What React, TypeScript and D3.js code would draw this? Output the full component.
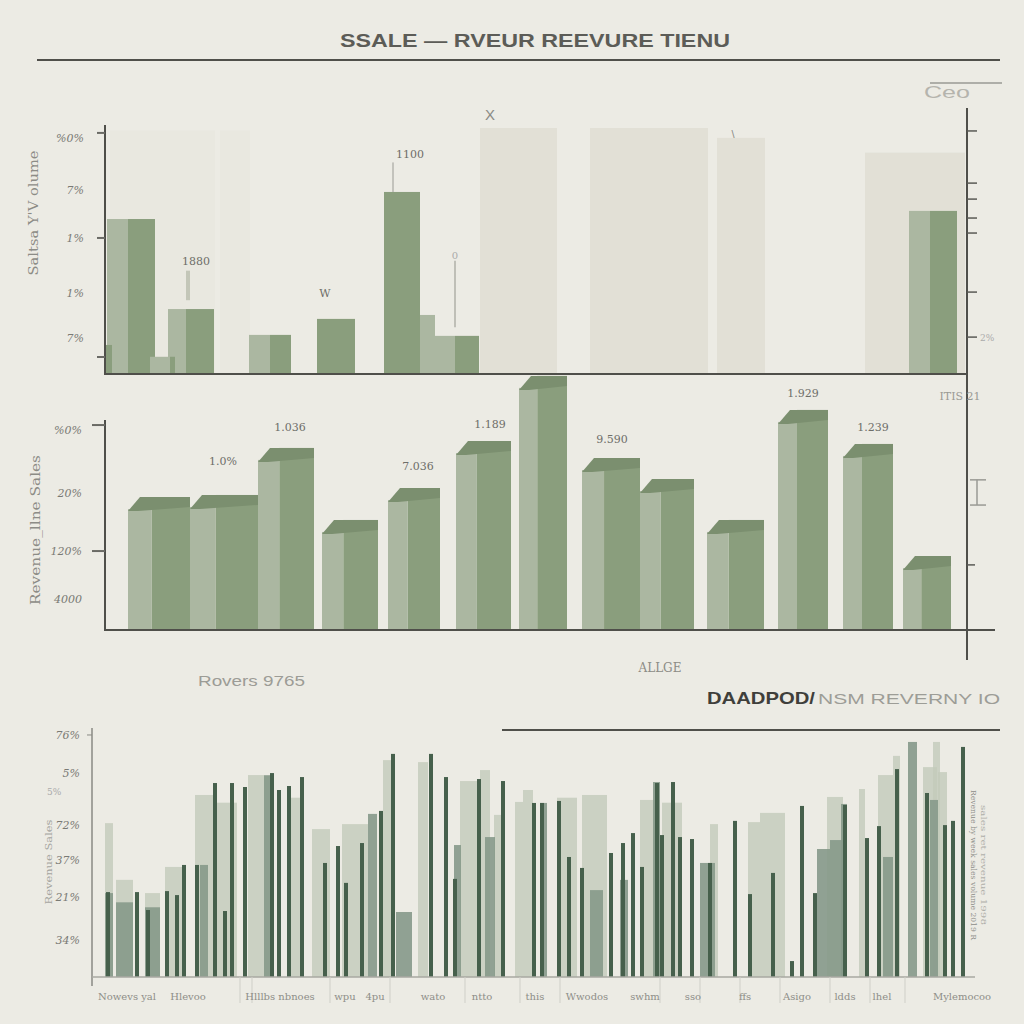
import React, { useEffect } from 'react';
import * as d3 from 'd3';

// ---------- DATA ----------
const TITLE = 'SSALE — RVEUR REEVURE TIENU';

// Panel 1 (units along the shared week axis; values in %)
const p1Ghosts = [
  { start: 0.5, end: 11, value: 99, tone: 0 },
  { start: 11.5, end: 14.5, value: 99, tone: 0 },
  { start: 37.5, end: 45.2, value: 100, tone: 1 },
  { start: 48.5, end: 60.3, value: 100, tone: 1 },
  { start: 61.2, end: 66, value: 96, tone: 1 },
  { start: 76, end: 86, value: 90, tone: 1 },
];
const p1Bars = [
  { start: 0.2, split: 2.3, end: 5.0, value: 63 },
  { start: 6.3, split: 8.1, end: 10.9, value: 26.4 },
  { start: 14.4, split: 16.5, end: 18.6, value: 15.9 },
  { start: 21.2, split: 21.2, end: 25.0, value: 22.4 },
  { start: 27.9, split: 27.9, end: 31.5, value: 74 },
  { start: 31.5, split: 33.0, end: 33.0, value: 24 },
  { start: 33.0, split: 35.0, end: 37.4, value: 15.5 },
  { start: 80.4, split: 82.5, end: 85.2, value: 66.3 },
  { start: 0.0, split: 0.0, end: 0.7, value: 11.8 },
  { start: 4.5, split: 6.5, end: 7.0, value: 7 },
];
const p1Notes = [
  { pos: 9.1, value: 44.3, text: '1880' },
  { pos: 22.0, value: 31.3, text: 'W' },
  { pos: 30.5, value: 88, text: '1100' },
];
const p1TickLabels = ['%0%', '7%', '1%', '1%', '7%'];
const p1TickValues = [95.9, 74.8, 55.3, 32.9, 14.6];
const p1TickMarks = [98, 55.3, 6.9];
const p1RightTicks = [98.8, 77.6, 71.1, 63.4, 57.3, 33.3, 15];

// Panel 2
const p2Bars = [
  { start: 2.3, end: 8.5, value: 63.3 },
  { start: 8.5, end: 15.3, value: 64.3 },
  { start: 15.3, end: 20.9, value: 86.7 },
  { start: 21.7, end: 27.3, value: 52.4 },
  { start: 28.3, end: 33.5, value: 67.6 },
  { start: 35.1, end: 40.6, value: 90 },
  { start: 41.4, end: 46.2, value: 121 },
  { start: 47.7, end: 53.5, value: 81.9 },
  { start: 53.5, end: 58.9, value: 71.9 },
  { start: 60.2, end: 65.9, value: 52.4 },
  { start: 67.3, end: 72.3, value: 104.8 },
  { start: 73.8, end: 78.8, value: 88.6 },
  { start: 79.8, end: 84.6, value: 35.2 },
];
const p2Notes = [
  { pos: 11.8, value: 78.6, text: '1.0%' },
  { pos: 18.5, value: 94.8, text: '1.036' },
  { pos: 31.3, value: 76.2, text: '7.036' },
  { pos: 38.5, value: 96.2, text: '1.189' },
  { pos: 50.7, value: 89, text: '9.590' },
  { pos: 69.8, value: 111, text: '1.929' },
  { pos: 76.8, value: 94.8, text: '1.239' },
];
const p2TickLabels = ['%0%', '20%', '120%', '4000'];
const p2TickValues = [95.2, 65.2, 37.6, 14.8];
const p2TickMarks = [97.6, 37.6];

// Panel 3
const p3Light = [
  [1.3, 2.1, 61.8], [10.3, 12.1, 73.1], [15.6, 18, 81.1], [7.3, 9, 44.2],
  [22, 23.8, 59.4], [25, 27.6, 61.4], [29.1, 30, 87.1], [32.6, 33.6, 86.3],
  [36.8, 38.5, 78.7], [38.8, 39.8, 83.1], [40.2, 41.3, 65.1], [42.3, 43.1, 70.3],
  [43.1, 44.1, 75.1], [49, 51.5, 73.1], [54.8, 56.8, 71.1], [61.8, 62.6, 61.4],
  [65.6, 66.8, 62.2], [66.8, 69.3, 65.9], [73.5, 75.1, 72.3], [76.7, 77.3, 75.5],
  [78.6, 80.1, 81.1], [80.1, 80.8, 88.8], [83.1, 84.5, 84.3], [84.1, 84.8, 94.4],
  [84.6, 85.5, 82.3], [2.4, 4.1, 39], [5.3, 6.8, 33.7], [12.5, 14.5, 70],
  [19.5, 21, 72], [46.5, 48.5, 72], [57, 59, 70],
];
const p3Mid = [
  [1.3, 2.1, 33.7], [2.4, 4.1, 30], [5.3, 6.8, 28], [27.6, 28.5, 65.5],
  [30.4, 32, 26.1], [39.3, 40.3, 56.2], [44.8, 45.5, 69.9], [49.8, 51.1, 34.9],
  [56.1, 56.8, 78.3], [60.8, 62.3, 45.8], [72.5, 73.8, 51.4], [73.8, 75.1, 55],
  [74.9, 75.5, 69.5], [79.1, 80.1, 48.2], [81.6, 82.5, 94.4], [83.8, 84.6, 71.1],
  [10.8, 11.6, 45], [17.2, 18.2, 81], [36.2, 36.9, 53], [52.8, 53.6, 39],
];
const p3Dark = [
  [1.6, 34.1], [4.5, 34.1], [5.6, 26.9], [7.5, 34.5], [8.5, 32.9], [9.2, 45],
  [10.5, 45], [12.3, 77.9], [13.3, 26.5], [14, 77.9], [15.3, 76.3], [18, 81.9],
  [18.7, 75.1], [19.7, 76.7], [21, 80.3], [23.3, 45.8], [24.6, 52.6], [25.4, 37.8],
  [27, 53.8], [28.9, 66.7], [30.1, 89.6], [33.9, 89.6], [35.4, 80.3], [36.3, 39.4],
  [38.7, 79.5], [41.1, 78.7], [44.2, 69.9], [45, 69.9], [46.7, 70.7], [47.7, 48.2],
  [49, 43.8], [51.9, 49.8], [53.1, 53.8], [54.1, 57.8], [55, 44.2], [56.5, 77.9],
  [57, 57], [58.1, 78.3], [58.8, 56.2], [60, 55.4], [61.8, 45.8], [64.3, 62.7],
  [65.8, 33.3], [68.1, 41.8], [70, 6.4], [71, 68.7], [72.3, 33.7], [75.3, 69.1],
  [77.5, 55.8], [78.7, 60.6], [80.5, 83.5], [83.5, 73.9], [85.3, 61], [86.1, 62.7],
  [87.1, 92.4],
];
const p3TickLabels = ['76%', '5%', '72%', '37%', '21%', '34%'];
const p3TickValues = [97.2, 81.9, 61, 47, 32.1, 14.9];
const p3XLabels = ['Nowevs yal', 'Hlevoo', 'Hlllbs nbnoes', 'wpu', '4pu', 'wato', 'ntto', 'this',
  'Wwodos', 'swhm', 'sso', 'ffs', 'Asigo', 'ldds', 'lhel', 'Mylemocoo'];
const p3XLabelPos = [3.5, 9.6, 18.8, 25.3, 28.3, 34.1, 39, 44.3, 49.5, 55.3, 60.1, 65.3, 70.5, 75.3, 79, 87];
const p3XTicks = [14.8, 16, 23.8, 29.8, 37.3, 42.8, 46.8, 56.8, 60.8, 64.8, 68.8, 73.8, 77.8, 81.3];

// ---------- STYLE ----------
const BG = '#ecebe4';
const AXIS = '#4f4f4a';
const G_DARK = '#8a9e7d';
const G_LIGHT = '#abb7a1';
const G_TOP = '#7b8f6f';
const GHOST = ['#e9e8e0', '#e2e0d6'];
const P3_DARK = '#46604c';
const P3_MID = '#86998a';
const P3_LIGHT = '#c3cbba';
const SERIF = 'DejaVu Serif, serif';
const SANS = 'Liberation Sans, Arial, sans-serif';

export default function App() {
  useEffect(() => {
    document.body.style.margin = '0';
    document.body.style.background = BG;
  }, []);

  const x = d3.scaleLinear().domain([0, 86.2]).range([105, 967]);
  const y1 = d3.scaleLinear().domain([0, 100]).range([374, 128]);
  const y2 = d3.scaleLinear().domain([0, 100]).range([630, 420]);
  const x3 = d3.scaleLinear().domain([0, 88]).range([92, 972]);
  const y3 = d3.scaleLinear().domain([0, 100]).range([977, 728]);

  return (
    <svg width={1024} height={1024} style={{ position: 'fixed', left: 0, top: 0, display: 'block' }}>
      <rect x={0} y={0} width={1024} height={1024} fill={BG} />

      {/* Title */}
      <text x={340} y={47} fontFamily={SANS} fontWeight="bold" fontSize={19} fill="#5c5c57"
        textLength={390} lengthAdjust="spacingAndGlyphs">{TITLE}</text>
      <line x1={37} x2={1000} y1={60} y2={60} stroke={AXIS} strokeWidth={2} />
      <text x={924} y={98} fontFamily={SANS} fontSize={17} fill="#b5b4ad" textLength={46} lengthAdjust="spacingAndGlyphs">Ceo</text>
      <line x1={930} x2={1002} y1={83} y2={83} stroke="#9a9a94" strokeWidth={1.5} />

      {/* ---------- Panel 1 ---------- */}
      {p1Ghosts.map((d, i) => (
        <rect key={'g' + i} x={x(d.start)} width={x(d.end) - x(d.start)} y={y1(d.value)}
          height={y1(0) - y1(d.value)} fill={GHOST[d.tone]} />
      ))}
      {p1Bars.map((d, i) => (
        <g key={'b1' + i}>
          {d.split > d.start && (
            <rect x={x(d.start)} width={x(d.split) - x(d.start)} y={y1(d.value)}
              height={y1(0) - y1(d.value)} fill={G_LIGHT} />
          )}
          {d.end > d.split && (
            <rect x={x(d.split)} width={x(d.end) - x(d.split)} y={y1(d.value)}
              height={y1(0) - y1(d.value)} fill={G_DARK} />
          )}
        </g>
      ))}
      <line x1={x(8.3)} x2={x(8.3)} y1={y1(42)} y2={y1(30)} stroke="#c3c6b8" strokeWidth={4} />
      <line x1={x(28.8)} x2={x(28.8)} y1={y1(86)} y2={y1(74)} stroke="#9a9a94" strokeWidth={1} />
      <line x1={x(35)} x2={x(35)} y1={y1(46)} y2={y1(19)} stroke="#b0b0a8" strokeWidth={1.5} />
      <text x={x(35)} y={y1(46) - 2} fontFamily={SERIF} fontSize={10} fill="#aaa" textAnchor="middle">0</text>
      {p1Notes.map((d, i) => (
        <text key={'n1' + i} x={x(d.pos)} y={y1(d.value)} fontFamily={SERIF} fontSize={11}
          fill="#6e6e69" textAnchor="middle">{d.text}</text>
      ))}
      <text x={490} y={120} fontFamily={SANS} fontSize={15} fill="#8a8a84" textAnchor="middle">X</text>
      <text x={733} y={138} fontFamily={SANS} fontSize={11} fill="#8a8a84" textAnchor="middle">\</text>

      <line x1={105} x2={105} y1={125} y2={375} stroke={AXIS} strokeWidth={2} />
      <line x1={104} x2={968} y1={374} y2={374} stroke={AXIS} strokeWidth={2} />
      {p1TickMarks.map((v, i) => (
        <line key={'tm1' + i} x1={97} x2={105} y1={y1(v)} y2={y1(v)} stroke="#6a6a65" strokeWidth={2} />
      ))}
      {p1TickLabels.map((t, i) => (
        <text key={'tl1' + i} x={84} y={y1(p1TickValues[i]) + 4} fontFamily={SERIF} fontSize={11}
          fill="#7a7a74" textAnchor="end" fontStyle="italic">{t}</text>
      ))}
      <text transform="translate(38,213) rotate(-90)" fontFamily={SERIF} fontSize={12} fill="#8c8c86"
        textAnchor="middle" textLength={125} lengthAdjust="spacingAndGlyphs">Saltsa Y'V olume</text>

      {/* right axis */}
      <line x1={967} x2={967} y1={108} y2={660} stroke={AXIS} strokeWidth={2} />
      {p1RightTicks.map((v, i) => (
        <line key={'rt' + i} x1={967} x2={977} y1={y1(v)} y2={y1(v)} stroke="#5a5a55" strokeWidth={1.5} />
      ))}
      <text x={980} y={y1(15) + 4} fontFamily={SERIF} fontSize={9} fill="#aaa">2%</text>

      {/* ---------- Panel 2 ---------- */}
      {p2Bars.map((d, i) => {
        const x0 = x(d.start);
        const xe = x(d.end);
        const top = y2(d.value);
        const w = xe - x0;
        const sp = x0 + w * 0.38;
        const pts = [[x0, top + 14], [x0 + 12, top], [xe, top], [xe, top + 10], [x0 + 10, top + 14]];
        return (
          <g key={'b2' + i}>
            <rect x={sp} width={xe - sp} y={top} height={y2(0) - top} fill={G_DARK} />
            <rect x={x0} width={sp - x0} y={top + 12} height={y2(0) - top - 12} fill={G_LIGHT} />
            <polygon points={pts.map(p => p.join(',')).join(' ')} fill={G_TOP} />
          </g>
        );
      })}
      {p2Notes.map((d, i) => (
        <text key={'n2' + i} x={x(d.pos)} y={y2(d.value)} fontFamily={SERIF} fontSize={11}
          fill="#6e6e69" textAnchor="middle">{d.text}</text>
      ))}
      <line x1={105} x2={105} y1={420} y2={631} stroke={AXIS} strokeWidth={2} />
      <line x1={104} x2={995} y1={630} y2={630} stroke={AXIS} strokeWidth={2} />
      {p2TickMarks.map((v, i) => (
        <line key={'tm2' + i} x1={92} x2={105} y1={y2(v)} y2={y2(v)} stroke="#6a6a65" strokeWidth={2} />
      ))}
      {p2TickLabels.map((t, i) => (
        <text key={'tl2' + i} x={82} y={y2(p2TickValues[i]) + 4} fontFamily={SERIF} fontSize={11}
          fill="#7a7a74" textAnchor="end" fontStyle="italic">{t}</text>
      ))}
      <text transform="translate(40,530) rotate(-90)" fontFamily={SERIF} fontSize={12} fill="#8c8c86"
        textAnchor="middle" textLength={150} lengthAdjust="spacingAndGlyphs">Revenue_llne Sales</text>
      <text x={960} y={400} fontFamily={SERIF} fontSize={11} fill="#9a9a94" textAnchor="middle">ITIS 21</text>
      <line x1={970} x2={986} y1={y2(71.5)} y2={y2(71.5)} stroke="#9a9a94" strokeWidth={1.5} />
      <line x1={977} x2={977} y1={y2(71.5)} y2={y2(59.5)} stroke="#9a9a94" strokeWidth={1.5} />
      <line x1={970} x2={986} y1={y2(59.5)} y2={y2(59.5)} stroke="#9a9a94" strokeWidth={1.5} />
      <line x1={967} x2={975} y1={y2(31)} y2={y2(31)} stroke="#5a5a55" strokeWidth={1.5} />
      <text x={660} y={672} fontFamily={SERIF} fontSize={12} fill="#8c8c86" textAnchor="middle">ALLGE</text>

      <text x={198} y={686} fontFamily={SANS} fontSize={15} fill="#9c9c96"
        textLength={107} lengthAdjust="spacingAndGlyphs">Rovers 9765</text>
      <text x={707} y={704} fontFamily={SANS} fontWeight="bold" fontSize={17} fill="#3f3f3b"
        textLength={108} lengthAdjust="spacingAndGlyphs">DAADPOD/</text>
      <text x={818} y={704} fontFamily={SANS} fontSize={15} fill="#9d9d97"
        textLength={182} lengthAdjust="spacingAndGlyphs">NSM  REVERNY IO</text>
      <line x1={502} x2={1000} y1={730} y2={730} stroke={AXIS} strokeWidth={2} />

      {/* ---------- Panel 3 ---------- */}
      {p3Light.map((d, i) => (
        <rect key={'l3' + i} x={x3(d[0])} width={x3(d[1]) - x3(d[0])} y={y3(d[2])}
          height={y3(0) - y3(d[2])} fill={P3_LIGHT} opacity={0.8} />
      ))}
      {p3Mid.map((d, i) => (
        <rect key={'m3' + i} x={x3(d[0])} width={x3(d[1]) - x3(d[0])} y={y3(d[2])}
          height={y3(0) - y3(d[2])} fill={P3_MID} opacity={0.9} />
      ))}
      {p3Dark.map((d, i) => (
        <rect key={'d3' + i} x={x3(d[0]) - 2} width={4} y={y3(d[1])}
          height={y3(0) - y3(d[1])} fill={P3_DARK} />
      ))}
      <line x1={92} x2={92} y1={728} y2={986} stroke="#8a8a84" strokeWidth={1.5} />
      <line x1={92} x2={975} y1={977} y2={977} stroke="#a8a8a2" strokeWidth={1.5} />
      <line x1={87} x2={92} y1={y3(97.2)} y2={y3(97.2)} stroke="#8a8a84" strokeWidth={1} />
      {p3TickLabels.map((t, i) => (
        <text key={'tl3' + i} x={80} y={y3(p3TickValues[i]) + 4} fontFamily={SERIF} fontSize={11}
          fill="#7a7a74" textAnchor="end" fontStyle="italic">{t}</text>
      ))}
      <text x={47} y={795} fontFamily={SERIF} fontSize={9} fill="#aaa">5%</text>
      <text transform="translate(52,862) rotate(-90)" fontFamily={SERIF} fontSize={10} fill="#a5a5a0"
        textAnchor="middle" textLength={85} lengthAdjust="spacingAndGlyphs">Revenue Sales</text>
      <text transform="translate(971,865) rotate(90)" fontFamily={SERIF} fontSize={8} fill="#8d8d88"
        textAnchor="middle" textLength={150} lengthAdjust="spacingAndGlyphs">Revenue by week sales volume 2019 R</text>
      <text transform="translate(981,865) rotate(90)" fontFamily={SERIF} fontSize={8} fill="#b0b0aa"
        textAnchor="middle" textLength={120} lengthAdjust="spacingAndGlyphs">sales ret revenue 1998</text>
      {p3XTicks.map((v, i) => (
        <line key={'xt3' + i} x1={x3(v)} x2={x3(v)} y1={977} y2={1003} stroke="#cfcfc8" strokeWidth={1} />
      ))}
      {p3XLabels.map((t, i) => (
        <text key={'xl3' + i} x={x3(p3XLabelPos[i])} y={1000} fontFamily={SERIF} fontSize={10}
          fill="#8e8e88" textAnchor="middle">{t}</text>
      ))}
    </svg>
  );
}
